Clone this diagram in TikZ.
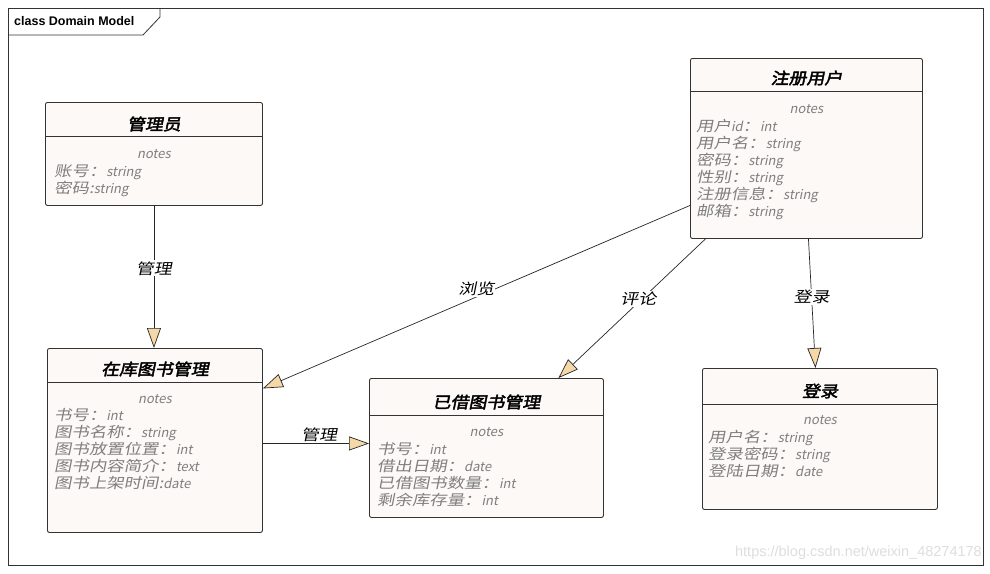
\documentclass[tikz,border=0pt]{standalone}
\usepackage{fontspec}
\setmainfont{Noto Sans CJK SC}
\newfontfamily\ttlfont{Noto Sans CJK SC}[FakeSlant=0.2,FakeBold=2.5,FakeStretch=1.12]
\newfontfamily\bodyfont{Noto Sans CJK SC}[FakeSlant=0.2,FakeStretch=1.2]
\newfontfamily\latfont{Noto Sans CJK SC}[FakeSlant=0.2]
\newfontfamily\frmfont{Liberation Sans}
\newcommand{\ty}[1]{{\latfont\fontsize{13}{17}\selectfont #1}}
\usetikzlibrary{arrows.meta, positioning}
\definecolor{boxfill}{HTML}{FCF9F6}
\definecolor{arrowtan}{HTML}{F5D8A8}
\definecolor{bodygray}{HTML}{7F7F7F}
\definecolor{edgegray}{HTML}{333333}

\begin{document}
\begin{tikzpicture}
[x=1pt,y=-1pt,
 cls/.style={draw=edgegray,fill=boxfill,rounded corners=2pt,anchor=north west,inner sep=0pt,line width=0.9pt},
 ttl/.style={font=\ttlfont\fontsize{16}{19}\selectfont,inner sep=0pt},
 notes/.style={font=\latfont\fontsize{13}{17}\selectfont,text=bodygray,inner sep=0pt},
 attr/.style={font=\bodyfont\fontsize{14.5}{17}\selectfont,text=bodygray,align=left,anchor=north west,inner sep=0pt},
 lbl/.style={font=\bodyfont\fontsize{15}{18}\selectfont,fill=white,inner sep=1pt},
 rel/.style={every edge/.style={draw=black!85,line width=0.7pt,-{Triangle[length=20pt,width=14pt,fill=arrowtan]}}}]

\useasboundingbox (0,0) rectangle (990,573);
\fill[white] (0,0) rectangle (990,573);

% frame
\draw[edgegray,line width=0.8pt] (8,8) rectangle (983,565);
\draw[edgegray,line width=0.8pt] (8,35) -- (143,35) -- (160,17) -- (160,8);
\node[anchor=west,inner sep=0pt,font=\frmfont\bfseries\fontsize{12.5}{15}\selectfont] (frameT) at (14,21) {class Domain Model};

% classes
\node[cls,minimum width=217,minimum height=103] (admin) at (45,102) {};
\node[ttl] (adminT) at ([yshift=-22pt]admin.north) {管理员};
\draw[edgegray] ([yshift=-34pt]admin.north west) -- ([yshift=-34pt]admin.north east);
\node[notes] (adminN) at ([yshift=-52pt]admin.north) {notes};
\node[attr] (adminA) at ([xshift=9pt,yshift=-62pt]admin.north west) {账号：\ty{string}\\密码:\ty{string}};

\node[cls,minimum width=232,minimum height=180] (user) at (690,58) {};
\node[ttl] (userT) at ([yshift=-20pt]user.north) {注册用户};
\draw[edgegray] ([yshift=-33pt]user.north west) -- ([yshift=-33pt]user.north east);
\node[notes] (userN) at ([yshift=-51pt]user.north) {notes};
\node[attr] (userA) at ([xshift=6pt,yshift=-61pt]user.north west)
  {用户\ty{id}：\ty{int}\\用户名：\ty{string}\\密码：\ty{string}\\性别：\ty{string}\\注册信息：\ty{string}\\邮箱：\ty{string}};

\node[cls,minimum width=215,minimum height=184] (stock) at (47,348) {};
\node[ttl] (stockT) at ([yshift=-21pt]stock.north) {在库图书管理};
\draw[edgegray] ([yshift=-34pt]stock.north west) -- ([yshift=-34pt]stock.north east);
\node[notes] (stockN) at ([yshift=-51pt]stock.north) {notes};
\node[attr] (stockA) at ([xshift=7pt,yshift=-60pt]stock.north west)
  {书号：\ty{int}\\图书名称：\ty{string}\\图书放置位置：\ty{int}\\图书内容简介：\ty{text}\\图书上架时间:\ty{date}};

\node[cls,minimum width=234,minimum height=139] (lent) at (369,378) {};
\node[ttl] (lentT) at ([yshift=-24pt]lent.north) {已借图书管理};
\draw[edgegray] ([yshift=-37pt]lent.north west) -- ([yshift=-37pt]lent.north east);
\node[notes] (lentN) at ([yshift=-54pt]lent.north) {notes};
\node[attr] (lentA) at ([xshift=8pt,yshift=-64pt]lent.north west)
  {书号：\ty{int}\\借出日期：\ty{date}\\已借图书数量：\ty{int}\\剩余库存量：\ty{int}};

\node[cls,minimum width=235,minimum height=141] (login) at (702,368) {};
\node[ttl] (loginT) at ([yshift=-23pt]login.north) {登录};
\draw[edgegray] ([yshift=-36pt]login.north west) -- ([yshift=-36pt]login.north east);
\node[notes] (loginN) at ([yshift=-52pt]login.north) {notes};
\node[attr] (loginA) at ([xshift=6pt,yshift=-62pt]login.north west)
  {用户名：\ty{string}\\登录密码：\ty{string}\\登陆日期：\ty{date}};

% relations
\path[rel]
  (admin.south) edge node[lbl,pos=0.44] (relManage) {管理} (admin.south |- stock.north)
  ([yshift=-57pt]user.west) edge node[lbl,pos=0.5,yshift=8pt] (relBrowse) {浏览} ([yshift=52pt]stock.east)
  ([xshift=-101pt]user.south) edge node[lbl,pos=0.43,xshift=-4pt] (relComment) {评论} ([xshift=72pt]lent.north)
  ([xshift=2pt]user.south) edge node[lbl,pos=0.45] (relLogin) {登录} ([xshift=-4.5pt]login.north)
  ([yshift=-3pt]stock.east) edge node[lbl,pos=0.53,yshift=9pt] (relLend) {管理} ([yshift=4.5pt]lent.west);

\node[anchor=east,inner sep=0pt,text=black!13,font=\frmfont\fontsize{14.5}{17}\selectfont] (mark) at (982,553) {https://blog.csdn.net/weixin\_48274178};
\end{tikzpicture}
\end{document}
